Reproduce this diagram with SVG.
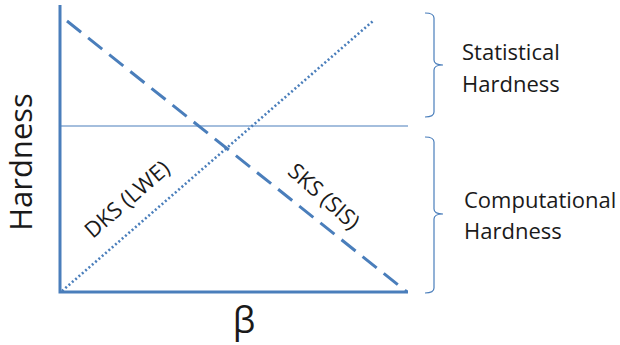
<svg xmlns="http://www.w3.org/2000/svg" width="620" height="345" viewBox="0 0 620 345">
<style>
.ax{stroke:#4a7ebb;stroke-width:3;fill:none}
.thin{stroke:#4a7ebb;stroke-width:1.2;fill:none}
.br{stroke:#4a7ebb;stroke-width:1.2;fill:none}
.t{font-family:"Open Sans","DejaVu Sans",sans-serif;fill:#1a1a1a}
</style>
<rect width="620" height="345" fill="#fff"/>
<g id="axes">
<path class="ax" d="M60,5 V292 H408"/>
</g>
<g id="connectors">
<line x1="60" y1="126" x2="408" y2="126" class="thin"/>
<line x1="67" y1="21" x2="407" y2="292" stroke="#4a7ebb" stroke-width="3" stroke-dasharray="18 9"/>
<line x1="62" y1="291" x2="373" y2="21" stroke="#4a7ebb" stroke-width="2.6" stroke-dasharray="2 2.4"/>
</g>
<g id="brace-stat">
<path class="br" d="M425,13 Q434,13 434,18 V60 Q434,65 443,65 Q434,65 434,70 V112 Q434,117 425,117"/>
<text class="t" x="462" y="60" font-size="22">Statistical</text>
<text class="t" x="462" y="92" font-size="22">Hardness</text>
</g>
<g id="brace-comp">
<path class="br" d="M425,137 Q434,137 434,142 V209 Q434,214 443,214 Q434,214 434,219 V288 Q434,293 425,293"/>
<text class="t" x="464" y="208" font-size="22">Computational</text>
<text class="t" x="464" y="239" font-size="22">Hardness</text>
</g>
<g id="ylabel">
<text class="t" font-size="31" text-anchor="middle" transform="translate(32,162) rotate(-90)">Hardness</text>
</g>
<g id="xlabel">
<text class="t" font-size="36" text-anchor="middle" x="244" y="333">β</text>
</g>
<g id="dks">
<text class="t" font-size="22" text-anchor="middle" transform="translate(132,205) rotate(-41)">DKS (LWE)</text>
</g>
<g id="sks">
<text class="t" font-size="22" text-anchor="middle" transform="translate(319,202) rotate(41.5)">SKS (SIS)</text>
</g>
</svg>
